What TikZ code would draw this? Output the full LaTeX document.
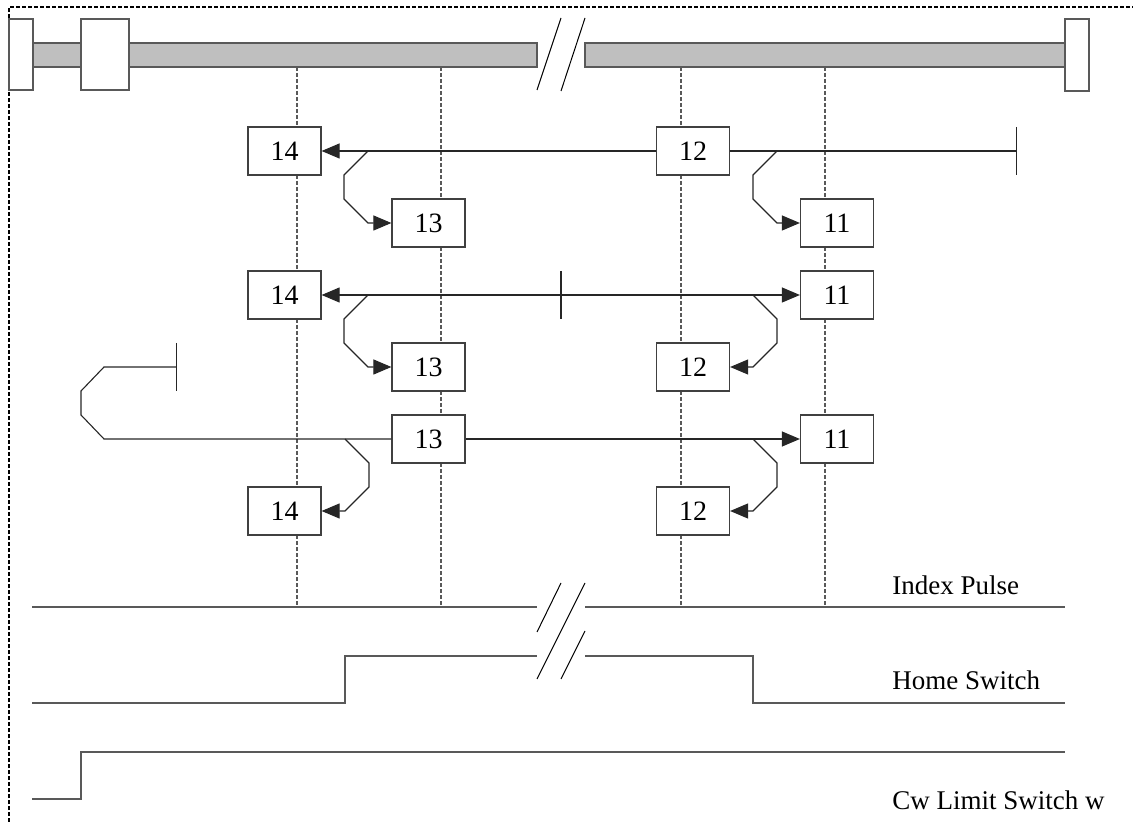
\documentclass[tikz,border=0pt]{standalone}
\usepackage{fontspec}
\setmainfont{Liberation Serif}
\usetikzlibrary{arrows.meta}
\begin{document}
\begin{tikzpicture}[x=0.5pt,y=-0.5pt,
  box/.style={draw=black!75,line width=0.6pt,fill=white,minimum width=36.5pt,minimum height=24pt,inner sep=0pt,font=\fontsize{14}{16}\selectfont},
  lbl/.style={anchor=base west,inner sep=0pt,font=\fontsize{13.5}{16}\selectfont},
  conn/.style={line width=0.55pt,black!85},
  tip/.tip={Triangle[length=9pt,width=7.5pt]},
  arr/.style={conn,-tip},
  darr/.style={conn,tip-tip},
  barend/.style={conn,-{Bar[width=24pt,line width=0.55pt]}},
  frame/.style={line width=0.65pt,dash pattern=on 2pt off 1pt},
  guide/.style={line width=0.6pt,black!65,dash pattern=on 2pt off 1pt},
  sig/.style={line width=0.7pt,black!65},
  rail/.style={draw=black!65,line width=0.7pt,fill=black!25},
  stop/.style={draw=black!65,line width=0.7pt,fill=white},
  brk/.style={line width=0.5pt,black}]
\useasboundingbox (0,0) rectangle (1133,822);
% frame
\draw[frame] (9,822) -- (9,7) -- (1133,7);
% rail
\draw[rail] (33,43) rectangle (537,67);
\draw[rail] (585,43) rectangle (1065,67);
\draw[stop] (9,19) rectangle (33,90);
\draw[stop] (81,19) rectangle (129,90);
\draw[stop] (1065,19) rectangle (1089,91);
\draw[brk] (561,18) -- (537,90);
\draw[brk] (585,18) -- (561,91);
% guides
\foreach \gx in {297,441,681,825} \draw[guide] (\gx,67) -- (\gx,607);
% boxes
\node[box] (b14a) at (284.5,151) {14};
\node[box] (b12a) at (693,151) {12};
\node[box] (b13a) at (428.5,223) {13};
\node[box] (b11a) at (837,223) {11};
\node[box] (b14b) at (284.5,295) {14};
\node[box] (b11b) at (837,295) {11};
\node[box] (b13b) at (428.5,367) {13};
\node[box] (b12b) at (693,367) {12};
\node[box] (b13c) at (428.5,439) {13};
\node[box] (b11c) at (837,439) {11};
\node[box] (b14c) at (284.5,511) {14};
\node[box] (b12c) at (693,511) {12};
% row 1
\coordinate (e1) at (1017,151);
\draw[arr] (b12a.west) -- (b14a.east);
\draw[barend] (b12a.east) -- (e1);
\coordinate (j1) at (368,151);
\coordinate (j2) at (777,151);
\draw[arr] (j1) -- ++(-24,24) -- ++(0,24) -- ++(24,24) -- (b13a.west);
\draw[arr] (j2) -- ++(-24,24) -- ++(0,24) -- ++(24,24) -- (b11a.west);
% row 2
\coordinate (t2) at (561,295);
\draw[darr] (b14b.east) -- (b11b.west);
\draw[conn] ([yshift=12pt]t2) -- ([yshift=-12pt]t2);
\coordinate (j3) at (368,295);
\coordinate (j4) at (753,295);
\draw[arr] (j3) -- ++(-24,24) -- ++(0,24) -- ++(24,24) -- (b13b.west);
\draw[arr] (j4) -- ++(24,24) -- ++(0,24) -- ++(-24,24) -- (b12b.east);
% row 3
\coordinate (e3) at (177,367);
\draw[barend] (b13c.west) -- (104,439) -- (81,415) -- (81,391) -- (104,367) -- (e3);
\draw[arr] (b13c.east) -- (b11c.west);
\coordinate (j5) at (345,439);
\coordinate (j6) at (753,439);
\draw[arr] (j5) -- ++(24,24) -- ++(0,24) -- ++(-24,24) -- (b14c.east);
\draw[arr] (j6) -- ++(24,24) -- ++(0,24) -- ++(-24,24) -- (b12c.east);
% signals
\draw[sig] (32,607) -- (537,607);
\draw[sig] (585,607) -- (1065,607);
\draw[sig] (32,703) -- (345,703) -- (345,656) -- (537,656);
\draw[sig] (585,656) -- (753,656) -- (753,703) -- (1065,703);
\draw[sig] (32,799) -- (81,799) -- (81,752) -- (1065,752);
\draw[brk] (561,583) -- (537,632);
\draw[brk] (585,583) -- (537,679);
\draw[brk] (585,631) -- (561,679);
% labels
\node[lbl] (lip) at (892,594) {Index Pulse};
\node[lbl] (lhs) at (892,689) {Home Switch};
\node[lbl] (lcw) at (892,809) {Cw Limit Switch w};
\end{tikzpicture}
\end{document}
